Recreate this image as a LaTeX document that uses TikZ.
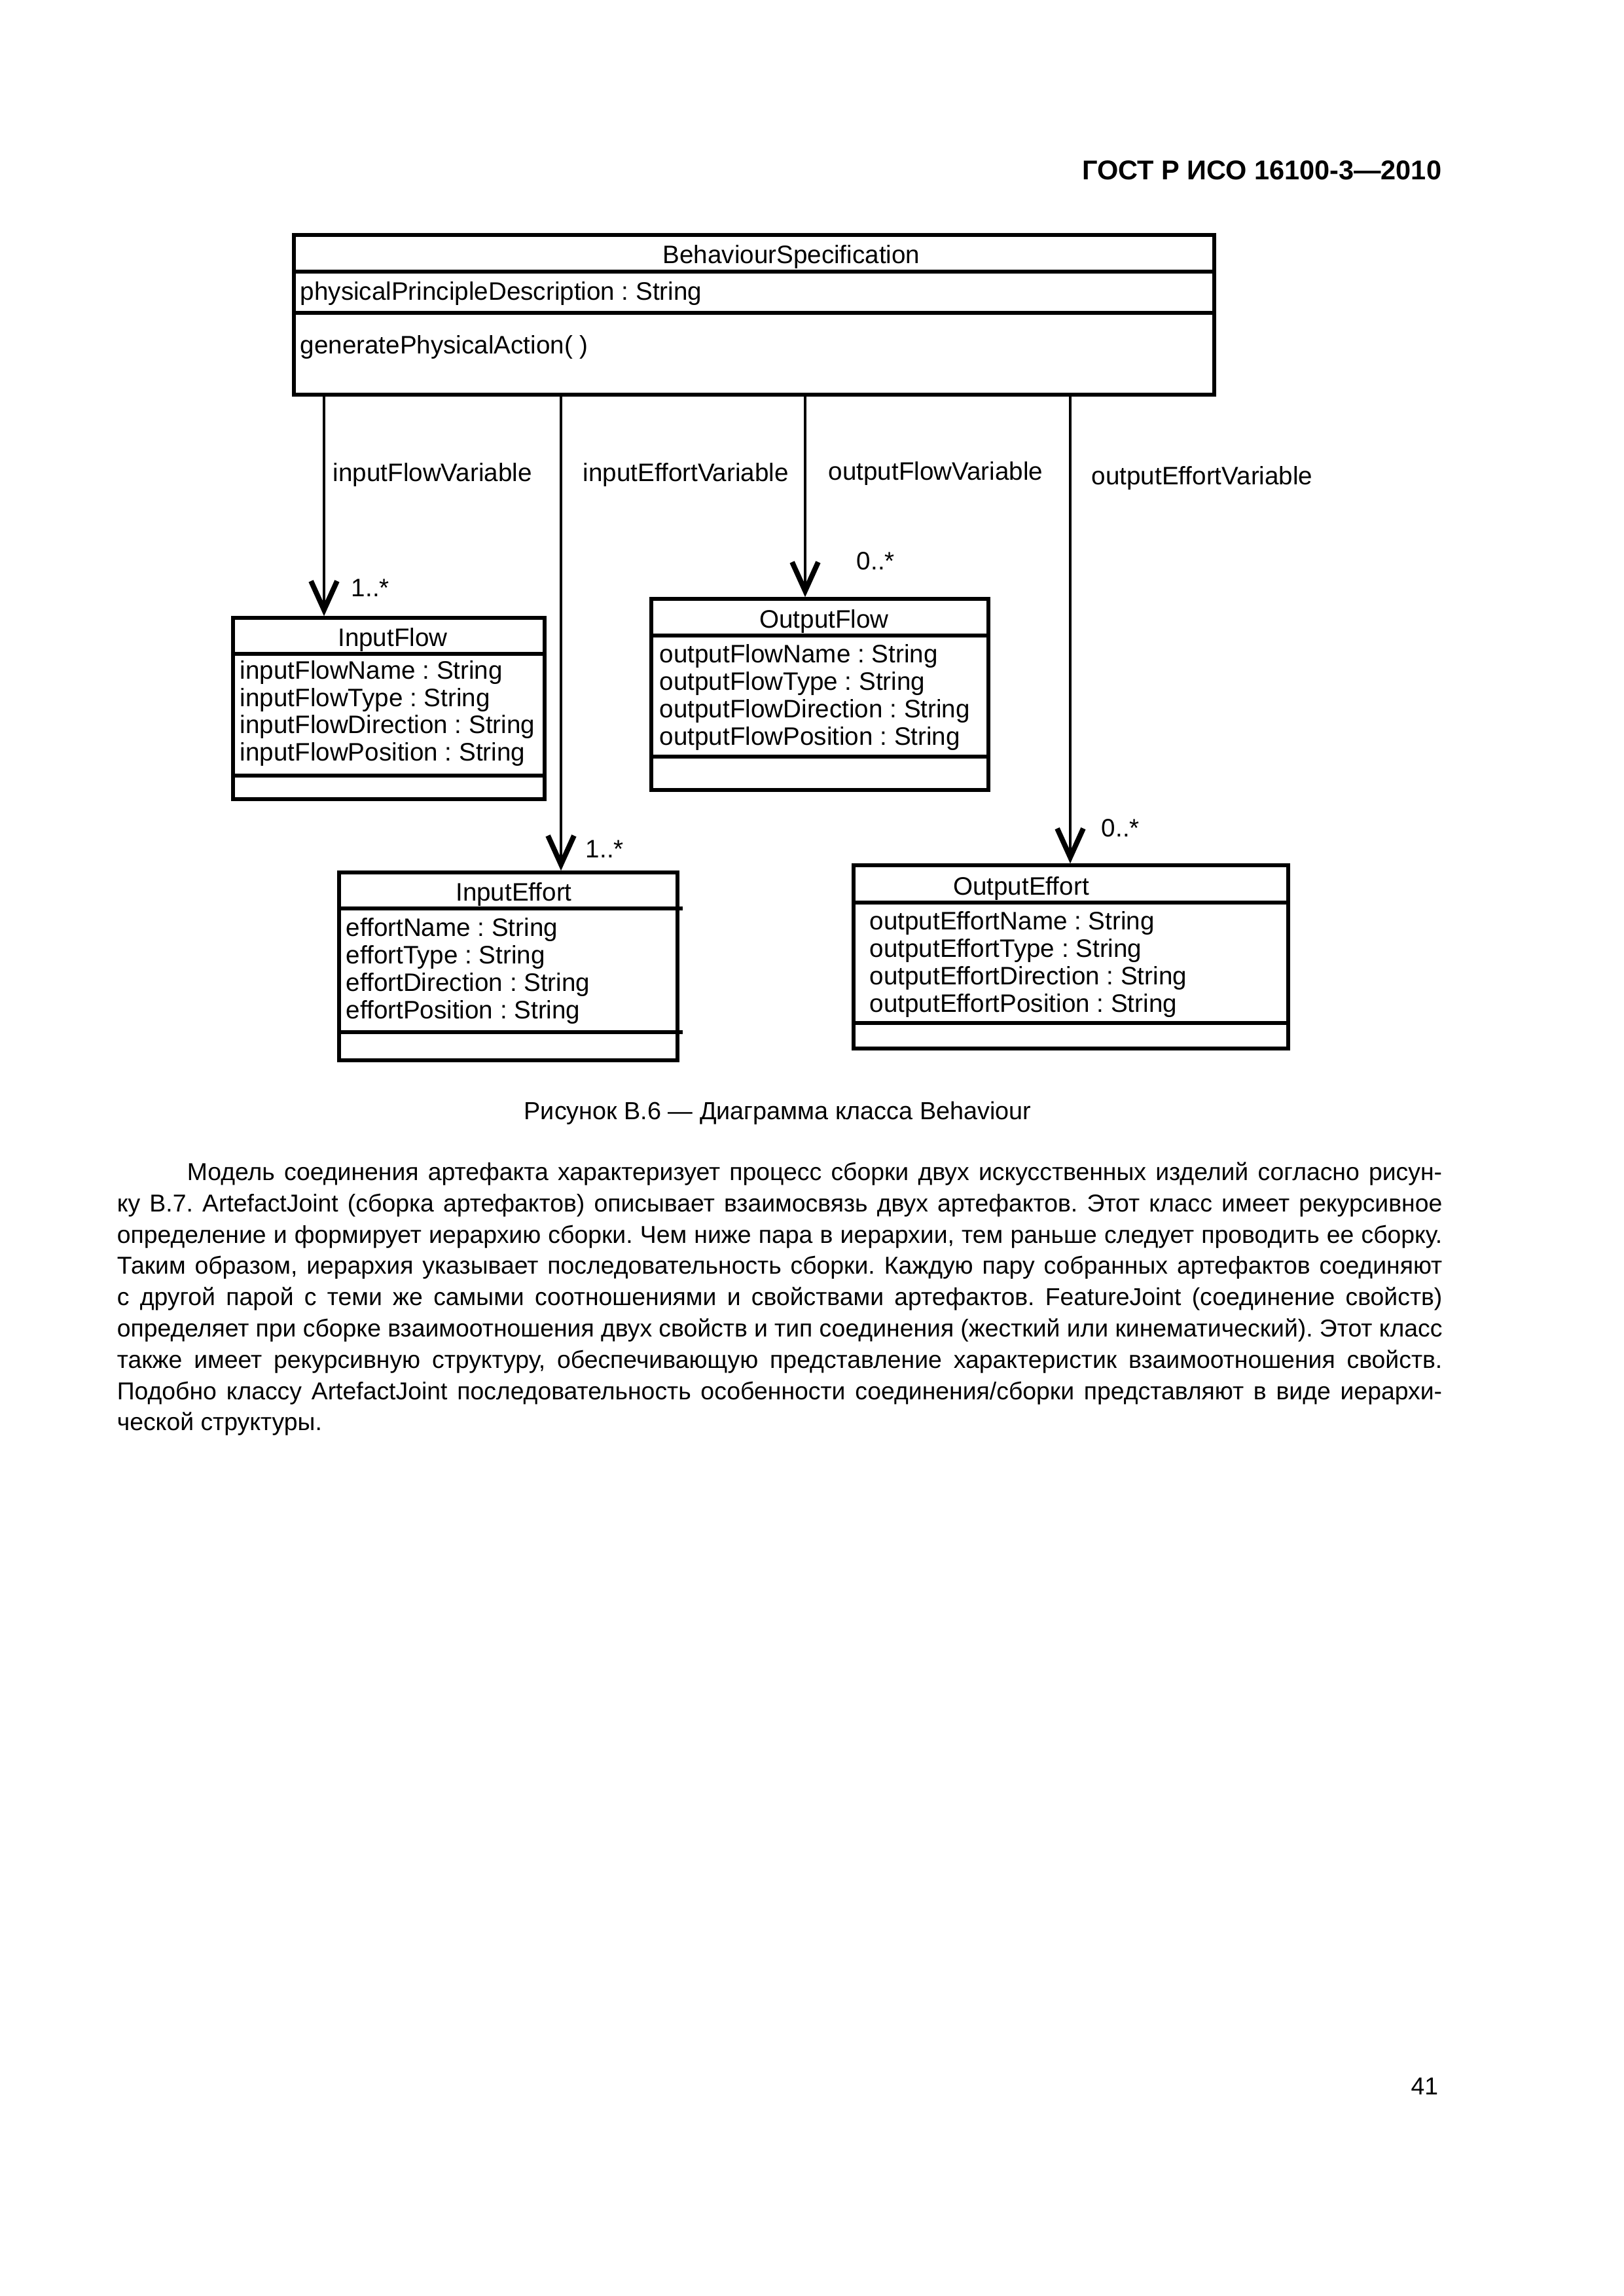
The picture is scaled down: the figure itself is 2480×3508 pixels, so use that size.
\documentclass[tikz,border=0pt]{standalone}
\usepackage{fontspec}
\setmainfont{Liberation Sans}
\usetikzlibrary{arrows.meta,fit}
\frenchspacing
\tikzset{
  umlbox/.style={draw, line width=1.3pt, inner sep=0pt, rectangle},
  sepline/.style={line width=1.3pt},
  assoc/.style={line width=1pt, -{Straight Barb[length=10.6pt,width=9.6pt,line width=1.9pt]}},
  dtxt/.style={inner sep=0pt, font=\fontsize{9.3}{11}\selectfont},
  btxt/.style={inner sep=0pt, anchor=base west, font=\fontsize{9}{11.5}\selectfont},
}
\begin{document}
\begin{tikzpicture}[x=0.00846774cm, y=-0.00846774cm]
\useasboundingbox (0,0) rectangle (2480,3508);
\fill[white] (0,0) rectangle (2480,3508);

% header
\node[inner sep=0pt, anchor=base east, font=\fontsize{10}{12}\bfseries\selectfont] (hdr) at (2203,274) {ГОСТ Р ИСО 16100-3—2010};

% ---------- BehaviourSpecification ----------
\node[umlbox, fit={(449,359) (1855,603)}] (bs) {};
\draw[sepline] (449,415) -- (1855,415);
\draw[sepline] (449,478) -- (1855,478);
\node[dtxt, anchor=base] (bsT) at (1209,402) {BehaviourSpecification};
\node[dtxt, anchor=base west] (bsA) at (458,458) {physicalPrincipleDescription : String};
\node[dtxt, anchor=base west] (bsO) at (458,540) {generatePhysicalAction( )};

% ---------- InputFlow ----------
\node[umlbox, fit={(356,944) (832,1221)}] (inflow) {};
\draw[sepline] (356,999) -- (832,999);
\draw[sepline] (356,1185) -- (832,1185);
\node[dtxt, anchor=base] (inflowT) at (600,987) {InputFlow};
\node[dtxt, anchor=base west] (if1) at (366,1037) {inputFlowName : String};
\node[dtxt, anchor=base west] (if2) at (366,1079) {inputFlowType : String};
\node[dtxt, anchor=base west] (if3) at (366,1120) {inputFlowDirection : String};
\node[dtxt, anchor=base west] (if4) at (366,1162) {inputFlowPosition : String};

% ---------- InputEffort ----------
\node[umlbox, fit={(518,1333) (1035,1620)}] (ineff) {};
\draw[sepline] (518,1388) -- (1043,1388);
\draw[sepline] (518,1577) -- (1043,1577);
\node[dtxt, anchor=base] (ineffT) at (785,1376) {InputEffort};
\node[dtxt, anchor=base west] (ie1) at (528,1430) {effortName : String};
\node[dtxt, anchor=base west] (ie2) at (528,1472) {effortType : String};
\node[dtxt, anchor=base west] (ie3) at (528,1514) {effortDirection : String};
\node[dtxt, anchor=base west] (ie4) at (528,1556) {effortPosition : String};

% ---------- OutputFlow ----------
\node[umlbox, fit={(995,915) (1510,1207)}] (outflow) {};
\draw[sepline] (995,971) -- (1510,971);
\draw[sepline] (995,1156) -- (1510,1156);
\node[dtxt, anchor=base] (outflowT) at (1259,959) {OutputFlow};
\node[dtxt, anchor=base west] (of1) at (1007,1012) {outputFlowName : String};
\node[dtxt, anchor=base west] (of2) at (1007,1054) {outputFlowType : String};
\node[dtxt, anchor=base west] (of3) at (1007,1096) {outputFlowDirection : String};
\node[dtxt, anchor=base west] (of4) at (1007,1138) {outputFlowPosition : String};

% ---------- OutputEffort ----------
\node[umlbox, fit={(1304,1322) (1968,1602)}] (outeff) {};
\draw[sepline] (1304,1379) -- (1968,1379);
\draw[sepline] (1304,1563) -- (1968,1563);
\node[dtxt, anchor=base] (outeffT) at (1560,1367) {OutputEffort};
\node[dtxt, anchor=base west] (oe1) at (1328,1420) {outputEffortName : String};
\node[dtxt, anchor=base west] (oe2) at (1328,1462) {outputEffortType : String};
\node[dtxt, anchor=base west] (oe3) at (1328,1504) {outputEffortDirection : String};
\node[dtxt, anchor=base west] (oe4) at (1328,1546) {outputEffortPosition : String};

% ---------- associations ----------
\coordinate (c1) at (495,0);
\coordinate (c2) at (857,0);
\coordinate (c3) at (1230,0);
\coordinate (c4) at (1635,0);
\draw[assoc] (bs.south -| c1) -- (inflow.north -| c1);
\draw[assoc] (bs.south -| c2) -- (ineff.north -| c2);
\draw[assoc] (bs.south -| c3) -- (outflow.north -| c3);
\draw[assoc] (bs.south -| c4) -- (outeff.north -| c4);

\node[dtxt, anchor=base west] (l1) at (508,735) {inputFlowVariable};
\node[dtxt, anchor=base west] (l2) at (890,735) {inputEffortVariable};
\node[dtxt, anchor=base west] (l3) at (1265,733) {outputFlowVariable};
\node[dtxt, anchor=base west] (l4) at (1667,740) {outputEffortVariable};

\node[dtxt, anchor=base west] (m1) at (536,911) {1..*};
\node[dtxt, anchor=base west] (m2) at (894,1310) {1..*};
\node[dtxt, anchor=base west] (m3) at (1308,870) {0..*};
\node[dtxt, anchor=base west] (m4) at (1682,1278) {0..*};

% caption
\node[inner sep=0pt, anchor=base, font=\fontsize{9.1}{11}\selectfont] (cap) at (1188,1710) {Рисунок В.6 — Диаграмма класса Behaviour};

% body text
\node[btxt] (t1) at (285,1803) {\makebox[462.0pt][s]{Модель соединения артефакта характеризует процесс сборки двух искусственных изделий согласно рисун-}};
\node[btxt] (t2) at (178,1851) {\makebox[487.8pt][s]{ку В.7. ArtefactJoint (сборка артефактов) описывает взаимосвязь двух артефактов. Этот класс имеет рекурсивное}};
\node[btxt] (t3) at (178,1899) {\makebox[487.8pt][s]{определение и формирует иерархию сборки. Чем ниже пара в иерархии, тем раньше следует проводить ее сборку.}};
\node[btxt] (t4) at (178,1946) {\makebox[487.8pt][s]{Таким образом, иерархия указывает последовательность сборки. Каждую пару собранных артефактов соединяют}};
\node[btxt] (t5) at (178,1994) {\makebox[487.8pt][s]{с другой парой с теми же самыми соотношениями и свойствами артефактов. FeatureJoint (соединение свойств)}};
\node[btxt] (t6) at (178,2042) {\makebox[487.8pt][s]{определяет при сборке взаимоотношения двух свойств и тип соединения (жесткий или кинематический). Этот класс}};
\node[btxt] (t7) at (178,2090) {\makebox[487.8pt][s]{также имеет рекурсивную структуру, обеспечивающую представление характеристик взаимоотношения свойств.}};
\node[btxt] (t8) at (178,2138) {\makebox[487.8pt][s]{Подобно классу ArtefactJoint последовательность особенности соединения/сборки представляют в виде иерархи-}};
\node[btxt] (t9) at (178,2185) {ческой структуры.};

% page number
\node[inner sep=0pt, anchor=base east, font=\fontsize{9}{11}\selectfont] (pg) at (2198,3200) {41};
\end{tikzpicture}
\end{document}
